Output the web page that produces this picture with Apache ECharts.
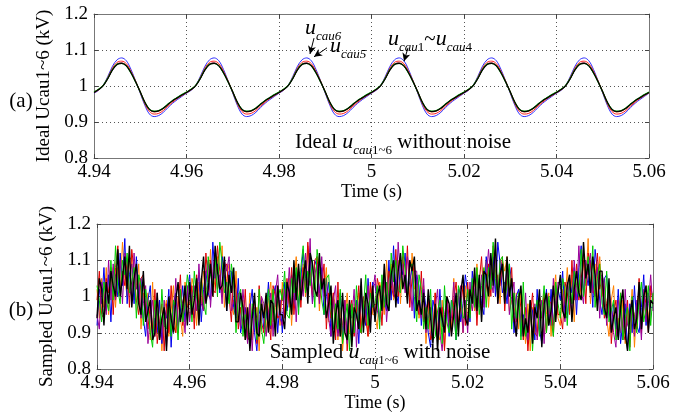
<!DOCTYPE html>
<html><head><meta charset="utf-8">
<script src="https://cdn.jsdelivr.net/npm/echarts@6/dist/echarts.min.js"></script>
<style>html,body{margin:0;padding:0;background:#fff}#c{width:684px;height:413px}</style>
</head><body><div id="c"></div>
<script>
// ---- axis ticks ----
const xTicks = [4.94, 4.96, 4.98, 5, 5.02, 5.04, 5.06];
const yTicks = [0.8, 0.9, 1, 1.1, 1.2];
const xTitle = 'Time (s)';
const yTitleA = 'Ideal Ucau1~6 (kV)';
const yTitleB = 'Sampled Ucau1~6 (kV)';

// ---- (a) ideal capacitor voltages, kV, sampled every 1 ms from 4.94 s ----
const idealU1 = [
0.983,0.991,1.002,1.022,1.046,1.061,1.064,1.057,1.038,1.013,0.984,0.955,0.934,0.928,0.930,0.937,0.948,0.958,0.967,0.975,
0.983,0.991,1.002,1.022,1.046,1.061,1.064,1.057,1.038,1.013,0.984,0.955,0.934,0.928,0.930,0.937,0.948,0.958,0.967,0.975,
0.983,0.991,1.002,1.022,1.046,1.061,1.064,1.057,1.038,1.013,0.984,0.955,0.934,0.928,0.930,0.937,0.948,0.958,0.967,0.975,
0.983,0.991,1.002,1.022,1.046,1.061,1.064,1.057,1.038,1.013,0.984,0.955,0.934,0.928,0.930,0.937,0.948,0.958,0.967,0.975,
0.983,0.991,1.002,1.022,1.046,1.061,1.064,1.057,1.038,1.013,0.984,0.955,0.934,0.928,0.930,0.937,0.948,0.958,0.967,0.975,
0.983,0.991,1.002,1.022,1.046,1.061,1.064,1.057,1.038,1.013,0.984,0.955,0.934,0.928,0.930,0.937,0.948,0.958,0.967,0.975,
0.983];
const idealU2 = [
0.982,0.990,1.001,1.021,1.045,1.061,1.064,1.056,1.037,1.011,0.983,0.954,0.934,0.929,0.931,0.938,0.949,0.959,0.968,0.976,
0.982,0.990,1.001,1.021,1.045,1.061,1.064,1.056,1.037,1.011,0.983,0.954,0.934,0.929,0.931,0.938,0.949,0.959,0.968,0.976,
0.982,0.990,1.001,1.021,1.045,1.061,1.064,1.056,1.037,1.011,0.983,0.954,0.934,0.929,0.931,0.938,0.949,0.959,0.968,0.976,
0.982,0.990,1.001,1.021,1.045,1.061,1.064,1.056,1.037,1.011,0.983,0.954,0.934,0.929,0.931,0.938,0.949,0.959,0.968,0.976,
0.982,0.990,1.001,1.021,1.045,1.061,1.064,1.056,1.037,1.011,0.983,0.954,0.934,0.929,0.931,0.938,0.949,0.959,0.968,0.976,
0.982,0.990,1.001,1.021,1.045,1.061,1.064,1.056,1.037,1.011,0.983,0.954,0.934,0.929,0.931,0.938,0.949,0.959,0.968,0.976,
0.982];
const idealU3 = [
0.983,0.991,1.002,1.022,1.046,1.061,1.063,1.056,1.036,1.011,0.983,0.954,0.935,0.930,0.932,0.939,0.950,0.960,0.968,0.976,
0.983,0.991,1.002,1.022,1.046,1.061,1.063,1.056,1.036,1.011,0.983,0.954,0.935,0.930,0.932,0.939,0.950,0.960,0.968,0.976,
0.983,0.991,1.002,1.022,1.046,1.061,1.063,1.056,1.036,1.011,0.983,0.954,0.935,0.930,0.932,0.939,0.950,0.960,0.968,0.976,
0.983,0.991,1.002,1.022,1.046,1.061,1.063,1.056,1.036,1.011,0.983,0.954,0.935,0.930,0.932,0.939,0.950,0.960,0.968,0.976,
0.983,0.991,1.002,1.022,1.046,1.061,1.063,1.056,1.036,1.011,0.983,0.954,0.935,0.930,0.932,0.939,0.950,0.960,0.968,0.976,
0.983,0.991,1.002,1.022,1.046,1.061,1.063,1.056,1.036,1.011,0.983,0.954,0.935,0.930,0.932,0.939,0.950,0.960,0.968,0.976,
0.983];
const idealU4 = [
0.982,0.990,1.001,1.021,1.045,1.060,1.063,1.056,1.037,1.012,0.984,0.955,0.935,0.929,0.931,0.938,0.949,0.959,0.967,0.975,
0.982,0.990,1.001,1.021,1.045,1.060,1.063,1.056,1.037,1.012,0.984,0.955,0.935,0.929,0.931,0.938,0.949,0.959,0.967,0.975,
0.982,0.990,1.001,1.021,1.045,1.060,1.063,1.056,1.037,1.012,0.984,0.955,0.935,0.929,0.931,0.938,0.949,0.959,0.967,0.975,
0.982,0.990,1.001,1.021,1.045,1.060,1.063,1.056,1.037,1.012,0.984,0.955,0.935,0.929,0.931,0.938,0.949,0.959,0.967,0.975,
0.982,0.990,1.001,1.021,1.045,1.060,1.063,1.056,1.037,1.012,0.984,0.955,0.935,0.929,0.931,0.938,0.949,0.959,0.967,0.975,
0.982,0.990,1.001,1.021,1.045,1.060,1.063,1.056,1.037,1.012,0.984,0.955,0.935,0.929,0.931,0.938,0.949,0.959,0.967,0.975,
0.982];
const idealU5 = [
0.981,0.989,1.001,1.024,1.050,1.066,1.069,1.062,1.041,1.013,0.982,0.950,0.929,0.922,0.924,0.932,0.944,0.955,0.965,0.973,
0.981,0.989,1.001,1.024,1.050,1.066,1.069,1.062,1.041,1.013,0.982,0.950,0.929,0.922,0.924,0.932,0.944,0.955,0.965,0.973,
0.981,0.989,1.001,1.024,1.050,1.066,1.069,1.062,1.041,1.013,0.982,0.950,0.929,0.922,0.924,0.932,0.944,0.955,0.965,0.973,
0.981,0.989,1.001,1.024,1.050,1.066,1.069,1.062,1.041,1.013,0.982,0.950,0.929,0.922,0.924,0.932,0.944,0.955,0.965,0.973,
0.981,0.989,1.001,1.024,1.050,1.066,1.069,1.062,1.041,1.013,0.982,0.950,0.929,0.922,0.924,0.932,0.944,0.955,0.965,0.973,
0.981,0.989,1.001,1.024,1.050,1.066,1.069,1.062,1.041,1.013,0.982,0.950,0.929,0.922,0.924,0.932,0.944,0.955,0.965,0.973,
0.981];
const idealU6 = [
0.980,0.988,1.002,1.027,1.055,1.073,1.078,1.070,1.046,1.014,0.980,0.946,0.922,0.915,0.918,0.927,0.940,0.952,0.962,0.971,
0.980,0.988,1.002,1.027,1.055,1.073,1.078,1.070,1.046,1.014,0.980,0.946,0.922,0.915,0.918,0.927,0.940,0.952,0.962,0.971,
0.980,0.988,1.002,1.027,1.055,1.073,1.078,1.070,1.046,1.014,0.980,0.946,0.922,0.915,0.918,0.927,0.940,0.952,0.962,0.971,
0.980,0.988,1.002,1.027,1.055,1.073,1.078,1.070,1.046,1.014,0.980,0.946,0.922,0.915,0.918,0.927,0.940,0.952,0.962,0.971,
0.980,0.988,1.002,1.027,1.055,1.073,1.078,1.070,1.046,1.014,0.980,0.946,0.922,0.915,0.918,0.927,0.940,0.952,0.962,0.971,
0.980,0.988,1.002,1.027,1.055,1.073,1.078,1.070,1.046,1.014,0.980,0.946,0.922,0.915,0.918,0.927,0.940,0.952,0.962,0.971,
0.980];

// ---- (b) sampled (noisy) capacitor voltages, kV, every 0.5 ms from 4.94 s ----
const sampledU1 = [
1.02,0.94,1.05,0.97,1.08,0.95,1.03,1.08,0.97,1.08,1.02,1.15,1.05,1.00,1.10,1.11,0.99,1.03,1.09,0.91,1.01,0.94,1.01,0.88,1.04,0.89,0.92,0.99,0.85,0.96,0.99,0.89,0.96,1.03,0.90,1.00,0.94,0.89,1.04,0.98,
0.94,1.05,1.02,0.92,1.04,0.98,1.07,1.03,1.00,1.13,1.00,1.05,1.11,1.02,1.14,0.97,1.05,1.09,0.98,0.95,1.07,0.93,0.96,0.99,0.88,0.90,1.01,0.88,0.94,0.97,0.85,1.00,0.94,0.90,0.99,1.04,0.93,0.97,1.03,0.92,
1.04,0.95,0.99,1.05,0.92,1.04,1.11,0.98,1.02,1.09,1.00,1.14,1.07,1.02,1.03,1.11,0.96,1.06,1.01,1.08,0.93,0.93,1.01,0.97,0.88,0.97,0.85,0.94,1.01,0.90,0.89,0.98,0.94,1.01,0.90,0.99,0.98,0.89,1.03,0.95,
0.95,0.91,1.04,1.01,0.95,1.10,0.99,1.09,0.99,1.05,1.10,0.98,1.12,1.09,1.02,1.00,1.12,1.02,1.05,0.94,0.98,1.03,0.87,0.95,0.99,0.89,1.01,0.90,0.88,0.99,0.86,0.97,0.95,0.91,1.05,0.90,1.01,0.98,0.90,1.03,
0.93,1.00,1.03,0.96,1.09,0.98,0.96,1.06,1.10,0.97,1.07,1.12,1.02,1.06,0.98,1.10,1.07,1.11,0.96,0.99,0.95,1.01,0.91,1.02,0.94,0.87,0.98,0.85,0.97,0.94,0.90,1.00,0.98,0.89,0.95,1.01,0.89,1.01,1.06,0.94,
0.92,1.02,0.98,1.08,0.96,1.06,0.93,1.07,1.06,1.00,1.12,1.03,1.16,0.98,1.06,1.09,0.98,1.11,1.00,1.05,0.94,0.89,0.99,1.03,0.89,0.94,0.90,0.99,0.87,0.97,0.94,1.02,0.86,0.98,1.01,0.92,0.96,1.03,0.93,1.01,
1.00];
const sampledU2 = [
0.95,0.91,1.04,1.01,0.95,1.10,0.99,1.09,0.99,1.05,1.10,0.98,1.12,1.09,1.02,1.00,1.12,1.02,1.05,0.94,0.98,1.03,0.87,0.95,0.99,0.89,1.01,0.90,0.88,0.99,0.86,0.97,0.95,0.91,1.05,0.90,1.01,0.98,0.90,1.03,
0.93,1.00,1.03,0.96,1.09,0.98,0.96,1.06,1.10,0.97,1.07,1.12,1.02,1.06,0.98,1.10,1.07,1.11,0.96,0.99,0.95,1.01,0.91,1.02,0.94,0.87,0.98,0.85,0.97,0.94,0.90,1.00,0.98,0.89,0.95,1.01,0.89,1.01,1.06,0.94,
0.92,1.02,0.98,1.08,0.96,1.06,0.93,1.07,1.06,1.00,1.12,1.03,1.16,0.98,1.06,1.09,0.98,1.11,1.00,1.05,0.94,0.89,0.99,1.03,0.89,0.94,0.90,0.99,0.87,0.97,0.94,1.02,0.86,0.98,1.01,0.92,0.96,1.03,0.93,1.01,
1.06,0.96,0.94,1.03,1.06,0.93,1.02,1.07,1.01,0.99,1.15,1.05,1.09,1.01,1.11,1.06,0.96,1.07,1.07,0.97,0.94,1.05,0.90,0.94,0.97,0.88,0.97,1.02,0.90,0.85,0.95,0.99,0.91,0.94,1.04,0.91,1.00,1.03,0.90,0.99,
0.90,1.04,0.96,1.01,1.06,0.97,1.06,0.97,1.05,1.13,1.05,1.01,1.12,0.98,1.10,1.08,1.01,1.08,0.95,1.00,1.04,0.89,1.00,0.93,0.90,1.01,0.88,0.96,0.90,0.98,0.88,0.94,0.99,0.87,1.01,0.97,0.92,1.05,0.95,1.04,
1.03,0.99,0.93,1.04,0.99,0.96,1.10,0.99,1.14,1.02,0.98,1.10,1.06,1.12,1.01,1.04,1.08,0.94,1.06,1.03,0.92,1.02,0.97,0.90,0.86,0.99,0.96,0.88,1.02,0.92,0.91,0.99,0.89,0.99,0.97,0.88,1.02,0.93,0.98,1.06,
0.96];
const sampledU3 = [
1.03,0.99,0.93,1.04,0.99,0.96,1.10,0.99,1.14,1.02,0.98,1.10,1.06,1.12,1.01,1.04,1.08,0.94,1.06,1.03,0.92,1.02,0.97,0.90,0.86,0.99,0.96,0.88,1.02,0.92,0.91,0.99,0.89,0.99,0.97,0.88,1.02,0.93,0.98,1.06,
1.01,0.93,1.07,1.00,0.95,1.05,0.98,0.95,1.11,1.06,1.03,1.11,1.00,1.15,1.09,1.01,1.04,0.98,1.09,1.04,0.90,1.00,1.02,0.89,0.95,0.92,0.87,0.98,0.96,0.88,1.02,0.91,0.87,0.96,1.02,0.92,1.02,0.92,0.99,1.02,
0.99,1.07,0.95,0.94,1.05,1.01,1.08,0.95,1.08,1.14,1.01,1.07,1.03,1.10,0.97,1.13,1.07,0.99,0.95,1.05,1.06,0.96,0.91,0.98,0.91,1.02,0.87,0.93,0.98,0.85,0.98,0.90,1.03,0.92,0.90,0.97,1.06,0.92,1.01,0.97,
0.98,1.03,0.91,1.06,0.97,1.04,0.96,1.12,1.04,1.10,1.02,1.01,1.14,1.07,1.00,1.08,1.09,1.00,0.93,1.06,1.02,0.91,0.97,0.91,1.02,0.88,0.89,0.96,0.99,0.87,1.03,0.93,0.90,0.99,0.96,0.88,1.03,1.00,0.94,0.95,
1.02,0.94,1.05,0.97,1.08,0.95,1.03,1.08,0.97,1.08,1.02,1.15,1.05,1.00,1.10,1.11,0.99,1.03,1.09,0.91,1.01,0.94,1.01,0.88,1.04,0.89,0.92,0.99,0.85,0.96,0.99,0.89,0.96,1.03,0.90,1.00,0.94,0.89,1.04,0.98,
0.94,1.05,1.02,0.92,1.04,0.98,1.07,1.03,1.00,1.13,1.00,1.05,1.11,1.02,1.14,0.97,1.05,1.09,0.98,0.95,1.07,0.93,0.96,0.99,0.88,0.90,1.01,0.88,0.94,0.97,0.85,1.00,0.94,0.90,0.99,1.04,0.93,0.97,1.03,0.92,
1.01];
const sampledU4 = [
0.94,1.05,1.02,0.92,1.04,0.98,1.07,1.03,1.00,1.13,1.00,1.05,1.11,1.02,1.14,0.97,1.05,1.09,0.98,0.95,1.07,0.93,0.96,0.99,0.88,0.90,1.01,0.88,0.94,0.97,0.85,1.00,0.94,0.90,0.99,1.04,0.93,0.97,1.03,0.92,
1.04,0.95,0.99,1.05,0.92,1.04,1.11,0.98,1.02,1.09,1.00,1.14,1.07,1.02,1.03,1.11,0.96,1.06,1.01,1.08,0.93,0.93,1.01,0.97,0.88,0.97,0.85,0.94,1.01,0.90,0.89,0.98,0.94,1.01,0.90,0.99,0.98,0.89,1.03,0.95,
0.95,0.91,1.04,1.01,0.95,1.10,0.99,1.09,0.99,1.05,1.10,0.98,1.12,1.09,1.02,1.00,1.12,1.02,1.05,0.94,0.98,1.03,0.87,0.95,0.99,0.89,1.01,0.90,0.88,0.99,0.86,0.97,0.95,0.91,1.05,0.90,1.01,0.98,0.90,1.03,
0.93,1.00,1.03,0.96,1.09,0.98,0.96,1.06,1.10,0.97,1.07,1.12,1.02,1.06,0.98,1.10,1.07,1.11,0.96,0.99,0.95,1.01,0.91,1.02,0.94,0.87,0.98,0.85,0.97,0.94,0.90,1.00,0.98,0.89,0.95,1.01,0.89,1.01,1.06,0.94,
0.92,1.02,0.98,1.08,0.96,1.06,0.93,1.07,1.06,1.00,1.12,1.03,1.16,0.98,1.06,1.09,0.98,1.11,1.00,1.05,0.94,0.89,0.99,1.03,0.89,0.94,0.90,0.99,0.87,0.97,0.94,1.02,0.86,0.98,1.01,0.92,0.96,1.03,0.93,1.01,
1.06,0.96,0.94,1.03,1.06,0.93,1.02,1.07,1.01,0.99,1.15,1.05,1.09,1.01,1.11,1.06,0.96,1.07,1.07,0.97,0.94,1.05,0.90,0.94,0.97,0.88,0.97,1.02,0.90,0.85,0.95,0.99,0.91,0.94,1.04,0.91,1.00,1.03,0.90,0.99,
0.98];
const sampledU5 = [
0.99,1.07,0.95,0.94,1.05,1.01,1.08,0.95,1.08,1.14,1.01,1.07,1.03,1.10,0.97,1.13,1.07,0.99,0.95,1.05,1.06,0.96,0.91,0.98,0.91,1.02,0.87,0.93,0.98,0.85,0.98,0.90,1.03,0.92,0.90,0.97,1.06,0.92,1.01,0.97,
0.98,1.03,0.91,1.06,0.97,1.04,0.96,1.12,1.04,1.10,1.02,1.01,1.14,1.07,1.00,1.08,1.09,1.00,0.93,1.06,1.02,0.91,0.97,0.91,1.02,0.88,0.89,0.96,0.99,0.87,1.03,0.93,0.90,0.99,0.96,0.88,1.03,1.00,0.94,0.95,
1.02,0.94,1.05,0.97,1.08,0.95,1.03,1.08,0.97,1.08,1.02,1.15,1.05,1.00,1.10,1.11,0.99,1.03,1.09,0.91,1.01,0.94,1.01,0.88,1.04,0.89,0.92,0.99,0.85,0.96,0.99,0.89,0.96,1.03,0.90,1.00,0.94,0.89,1.04,0.98,
0.94,1.05,1.02,0.92,1.04,0.98,1.07,1.03,1.00,1.13,1.00,1.05,1.11,1.02,1.14,0.97,1.05,1.09,0.98,0.95,1.07,0.93,0.96,0.99,0.88,0.90,1.01,0.88,0.94,0.97,0.85,1.00,0.94,0.90,0.99,1.04,0.93,0.97,1.03,0.92,
1.04,0.95,0.99,1.05,0.92,1.04,1.11,0.98,1.02,1.09,1.00,1.14,1.07,1.02,1.03,1.11,0.96,1.06,1.01,1.08,0.93,0.93,1.01,0.97,0.88,0.97,0.85,0.94,1.01,0.90,0.89,0.98,0.94,1.01,0.90,0.99,0.98,0.89,1.03,0.95,
0.95,0.91,1.04,1.01,0.95,1.10,0.99,1.09,0.99,1.05,1.10,0.98,1.12,1.09,1.02,1.00,1.12,1.02,1.05,0.94,0.98,1.03,0.87,0.95,0.99,0.89,1.01,0.90,0.88,0.99,0.86,0.97,0.95,0.91,1.05,0.90,1.01,0.98,0.90,1.03,
0.99];
const sampledU6 = [
0.92,1.02,0.98,1.08,0.96,1.06,0.93,1.07,1.06,1.00,1.12,1.03,1.16,0.98,1.06,1.09,0.98,1.11,1.00,1.05,0.94,0.89,0.99,1.03,0.89,0.94,0.90,0.99,0.87,0.97,0.94,1.02,0.86,0.98,1.01,0.92,0.96,1.03,0.93,1.01,
1.06,0.96,0.94,1.03,1.06,0.93,1.02,1.07,1.01,0.99,1.15,1.05,1.09,1.01,1.11,1.06,0.96,1.07,1.07,0.97,0.94,1.05,0.90,0.94,0.97,0.88,0.97,1.02,0.90,0.85,0.95,0.99,0.91,0.94,1.04,0.91,1.00,1.03,0.90,0.99,
0.90,1.04,0.96,1.01,1.06,0.97,1.06,0.97,1.05,1.13,1.05,1.01,1.12,0.98,1.10,1.08,1.01,1.08,0.95,1.00,1.04,0.89,1.00,0.93,0.90,1.01,0.88,0.96,0.90,0.98,0.88,0.94,0.99,0.87,1.01,0.97,0.92,1.05,0.95,1.04,
1.03,0.99,0.93,1.04,0.99,0.96,1.10,0.99,1.14,1.02,0.98,1.10,1.06,1.12,1.01,1.04,1.08,0.94,1.06,1.03,0.92,1.02,0.97,0.90,0.86,0.99,0.96,0.88,1.02,0.92,0.91,0.99,0.89,0.99,0.97,0.88,1.02,0.93,0.98,1.06,
1.01,0.93,1.07,1.00,0.95,1.05,0.98,0.95,1.11,1.06,1.03,1.11,1.00,1.15,1.09,1.01,1.04,0.98,1.09,1.04,0.90,1.00,1.02,0.89,0.95,0.92,0.87,0.98,0.96,0.88,1.02,0.91,0.87,0.96,1.02,0.92,1.02,0.92,0.99,1.02,
0.99,1.07,0.95,0.94,1.05,1.01,1.08,0.95,1.08,1.14,1.01,1.07,1.03,1.10,0.97,1.13,1.07,0.99,0.95,1.05,1.06,0.96,0.91,0.98,0.91,1.02,0.87,0.93,0.98,0.85,0.98,0.90,1.03,0.92,0.90,0.97,1.06,0.92,1.01,0.97,
0.97];

// sampling instants (s)
const idealTimes = idealU4.map((_, i) => +(4.94 + i * 0.001).toFixed(4));
const sampledTimes = sampledU4.map((_, i) => +(4.94 + i * 0.0005).toFixed(5));

const FONT = 'Liberation Serif';
const pairs = (ts, vs) => vs.map((v, i) => [ts[i], v]);
const fmt = v => String(+(+v).toFixed(2));

function axesFor(g, yTitle, yGap) {
  const common = {
    gridIndex: g, type: 'value', min: xTicks[0], max: xTicks[xTicks.length - 1], interval: 0.02
  };
  const ycommon = {
    gridIndex: g, type: 'value', min: yTicks[0], max: yTicks[yTicks.length - 1], interval: 0.1
  };
  const line = {show: true, onZero: false, lineStyle: {color: '#777', width: 1}};
  const tick = {show: true, inside: true, length: 4, lineStyle: {color: '#444'}};
  const split = {show: true, lineStyle: {type: [1, 3], color: '#555', width: 1}};
  return {
    x: [
      Object.assign({}, common, {position: 'bottom', axisLine: line, axisTick: tick, splitLine: split,
        axisLabel: {fontFamily: FONT, fontSize: 19, color: '#000', margin: 5, formatter: fmt},
        name: xTitle, nameLocation: 'middle', nameGap: 25,
        nameTextStyle: {fontFamily: FONT, fontSize: 18, color: '#000'}}),
      Object.assign({}, common, {position: 'top', axisLine: line, axisTick: tick, splitLine: {show: false}, axisLabel: {show: false}})
    ],
    y: [
      Object.assign({}, ycommon, {position: 'left', axisLine: line, axisTick: tick, splitLine: split,
        axisLabel: {fontFamily: FONT, fontSize: 19, color: '#000', margin: 6, formatter: fmt},
        name: yTitle, nameLocation: 'middle', nameGap: yGap,
        nameTextStyle: {fontFamily: FONT, fontSize: 19, color: '#000'}}),
      Object.assign({}, ycommon, {position: 'right', axisLine: line, axisTick: tick, splitLine: {show: false}, axisLabel: {show: false}})
    ]
  };
}
const A = axesFor(0, yTitleA, 30);
const B = axesFor(1, yTitleB, 38);

const topColors = {u1: '#ff8000', u2: '#990099', u3: '#00b000', u4: '#000000', u5: '#ff2020', u6: '#3030ff'};
function topLine(name, data, color, width) {
  return {name, type: 'line', xAxisIndex: 0, yAxisIndex: 0, data: pairs(idealTimes, data), showSymbol: false,
    smooth: 0.35, lineStyle: {color, width}, itemStyle: {color}, z: 3};
}
function botLine(name, data, color, width) {
  return {name, type: 'line', xAxisIndex: 2, yAxisIndex: 2, data: pairs(sampledTimes, data), showSymbol: false,
    lineStyle: {color, width}, itemStyle: {color}, z: 3};
}

const arrowLines = {
  silent: true, symbol: ['none', 'arrow'], symbolSize: [6, 8], animation: false,
  lineStyle: {color: '#000', width: 1, type: 'solid'}, label: {show: false},
  data: [
    [{coord: [4.98757, 1.133]}, {coord: [4.9867, 1.089]}],
    [{coord: [4.99038, 1.106]}, {coord: [4.98757, 1.081]}],
    [{coord: [5.00789, 1.106]}, {coord: [5.00703, 1.069]}]
  ]
};

const series = [
  topLine('ucau6', idealU6, topColors.u6, 1),
  topLine('ucau5', idealU5, topColors.u5, 1),
  topLine('ucau1', idealU1, topColors.u1, 1),
  topLine('ucau2', idealU2, topColors.u2, 1),
  topLine('ucau3', idealU3, topColors.u3, 1.2),
  Object.assign(topLine('ucau4', idealU4, topColors.u4, 1.2), {markLine: arrowLines}),
  botLine('s1', sampledU1, '#ff8000', 1),
  botLine('s6', sampledU6, '#0000ee', 1),
  botLine('s5', sampledU5, '#dd0000', 1),
  botLine('s2', sampledU2, '#990099', 1),
  botLine('s3', sampledU3, '#00cc00', 1),
  botLine('s4', sampledU4, '#000000', 1.4)
];

const rich = {
  u: {fontFamily: FONT, fontSize: 22, fontStyle: 'italic', color: '#000', verticalAlign: 'bottom', padding: [0, 0, 4, 0]},
  t: {fontFamily: FONT, fontSize: 21, color: '#000', verticalAlign: 'bottom', padding: [0, 0, 4, 0]},
  s: {fontFamily: FONT, fontSize: 13, fontStyle: 'italic', color: '#000', verticalAlign: 'bottom'},
  n: {fontFamily: FONT, fontSize: 13, color: '#000', verticalAlign: 'bottom'}
};
function rtext(x, y, text, align) {
  return {type: 'text', x, y, z: 10, silent: true,
    style: {text, rich, textAlign: align || 'left', textVerticalAlign: 'top', fill: '#000'}};
}

const option = {
  animation: false,
  backgroundColor: '#fff',
  grid: [
    {left: 94, right: 35, top: 14, height: 144},
    {left: 97, right: 31, top: 224, height: 145}
  ],
  xAxis: [A.x[0], A.x[1], B.x[0], B.x[1]],
  yAxis: [A.y[0], A.y[1], B.y[0], B.y[1]],
  series,
  graphic: [
    {type: 'text', x: 21, y: 101, style: {text: '(a)', font: '21px "Liberation Serif"', fill: '#000', textAlign: 'center', textVerticalAlign: 'middle'}},
    {type: 'text', x: 21, y: 310, style: {text: '(b)', font: '21px "Liberation Serif"', fill: '#000', textAlign: 'center', textVerticalAlign: 'middle'}},
    rtext(305, 17, '{u|u}{s|cau6}'),
    rtext(330, 35, '{u|u}{s|cau5}'),
    rtext(388, 28, '{u|u}{s|cau}{n|1}{t|~}{u|u}{s|cau}{n|4}'),
    rtext(403, 131, '{t|Ideal }{u|u}{s|cau}{n|1~6}{t| without noise}', 'center'),
    rtext(380, 341, '{t|Sampled }{u|u}{s|cau}{n|1~6}{t| with noise}', 'center')
  ]
};
const chart = echarts.init(document.getElementById('c'), null, {renderer: 'canvas'});
chart.setOption(option);
</script>
</body></html>
